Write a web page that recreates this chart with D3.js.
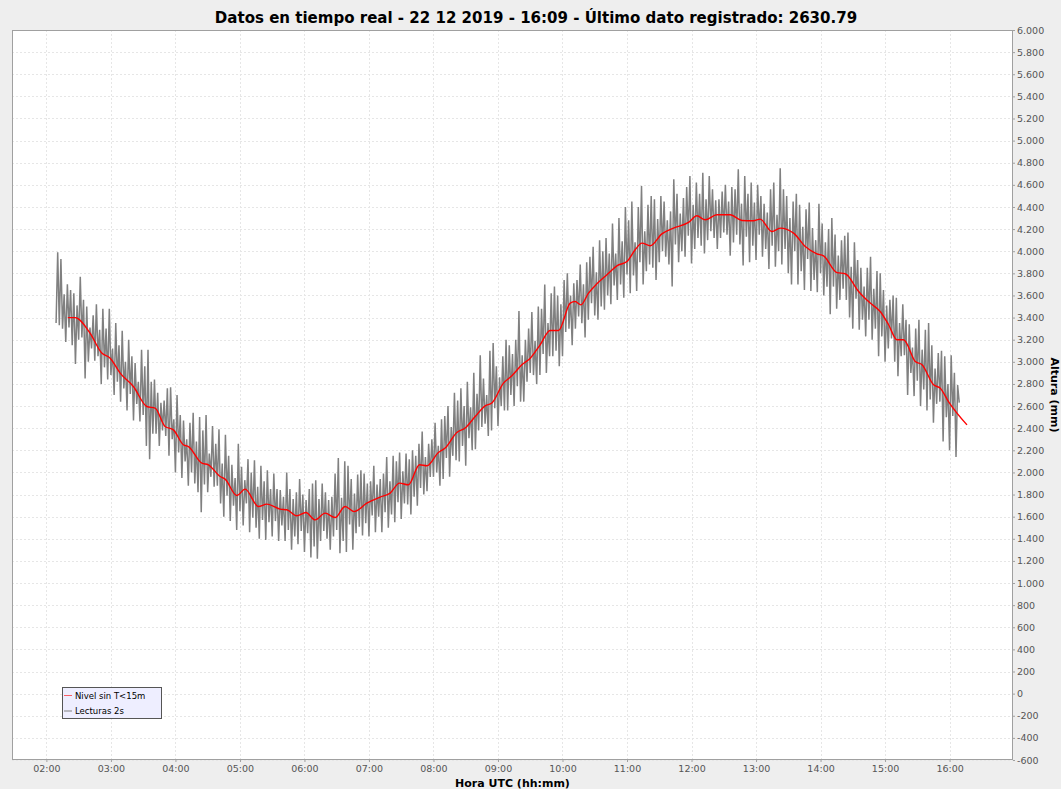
<!DOCTYPE html>
<html>
<head>
<meta charset="utf-8">
<script src="https://cdn.jsdelivr.net/npm/d3@7"></script>
<style>
  html, body { margin: 0; padding: 0; background: #eeeeee; }
  svg { display: block; }
</style>
</head>
<body>
<svg id="chart" width="1061" height="789"></svg>
<script>
// ---- Texts ----
const chartTitle = "Datos en tiempo real - 22 12 2019 - 16:09 - Último dato registrado: 2630.79";
const xAxisTitle = "Hora UTC (hh:mm)";
const yAxisTitle = "Altura (mm)";
const seriesNames = ["Nivel sin T<15m", "Lecturas 2s"];

// ---- Axis ticks ----
const hourTicks = [120, 180, 240, 300, 360, 420, 480, 540, 600, 660, 720, 780, 840, 900, 960]; // minutes UTC
const hourTickLabels = ["02:00", "03:00", "04:00", "05:00", "06:00", "07:00", "08:00", "09:00",
                        "10:00", "11:00", "12:00", "13:00", "14:00", "15:00", "16:00"];
const heightTicks = [-600, -400, -200, 0, 200, 400, 600, 800, 1000, 1200, 1400, 1600, 1800, 2000,
                     2200, 2400, 2600, 2800, 3000, 3200, 3400, 3600, 3800, 4000, 4200, 4400, 4600,
                     4800, 5000, 5200, 5400, 5600, 5800, 6000];
const timeDomain = [88, 1019];     // minutes UTC
const heightDomain = [-600, 6000]; // mm

// ---- Filtered level (Nivel sin T<15m): time in minutes UTC, height in mm ----
const levelTimes = [139.9, 146.7, 160.6, 171.5, 179.3, 188.6, 200.9, 213.4, 221.1, 230.4,
  238.1, 247.4, 252.1, 264.6, 270.7, 281.6, 286.2, 297.1, 304.8, 317.2,
  325.0, 337.4, 343.6, 352.9, 361.3, 370.0, 379.2, 388.5, 397.8, 406.2,
  418.0, 430.4, 439.7, 448.4, 456.7, 467.0, 473.9, 484.6, 490.9, 501.7,
  509.5, 518.8, 528.1, 534.3, 545.1, 552.9, 562.2, 570.0, 579.2, 588.5,
  596.3, 607.2, 611.8, 617.1, 624.2, 632.0, 641.3, 650.6, 659.9, 667.6,
  673.8, 681.6, 692.4, 703.2, 717.2, 725.0, 732.7, 743.6, 756.0, 766.9,
  777.6, 783.9, 794.8, 802.5, 814.9, 825.8, 836.6, 842.8, 855.3, 863.0,
  875.4, 886.2, 895.5, 903.3, 911.1, 917.2, 928.1, 934.4, 945.1, 951.4,
  959.0, 976.2];
const levelValues = [3400, 3400, 3259, 3079, 3033, 2898, 2777, 2596, 2581, 2415,
  2385, 2250, 2234, 2084, 2069, 1963, 1939, 1791, 1849, 1692,
  1713, 1668, 1662, 1608, 1637, 1571, 1632, 1592, 1692, 1646,
  1722, 1777, 1813, 1903, 1888, 2069, 2060, 2180, 2220, 2361,
  2401, 2505, 2602, 2627, 2807, 2873, 2973, 3033, 3154, 3283,
  3283, 3531, 3545, 3515, 3621, 3705, 3787, 3868, 3907, 4013,
  4073, 4049, 4157, 4209, 4260, 4320, 4284, 4329, 4329, 4278,
  4275, 4290, 4178, 4209, 4164, 4042, 3976, 3958, 3807, 3796,
  3636, 3531, 3455, 3335, 3199, 3199, 3003, 2973, 2792, 2762,
  2641, 2430];

// ---- Raw readings (Lecturas 2s), decimated: first at 02:09, one every 1.5 min ----
const readingsStart = 129;  // minutes UTC
const readingsStep = 1.5;   // minutes
const readings = [
  3350, 3990, 3330, 3930, 3300, 3610, 3180, 3700, 3310, 3650,
  3150, 3620, 2980, 3510, 3200, 3770, 3220, 3560, 2850, 3500,
  3000, 3310, 3120, 3420, 3010, 3520, 3050, 3290, 2800, 3480,
  2950, 3300, 2840, 3480, 2880, 3120, 2700, 3350, 2820, 3150,
  2640, 3280, 2760, 3000, 2560, 3200, 2710, 3050, 2470, 2990,
  2620, 2820, 2460, 3110, 2520, 2960, 2240, 3110, 2120, 2820,
  2350, 2840, 2350, 2720, 2240, 2630, 2380, 2650, 2330, 2760,
  2150, 2770, 2300, 2480, 2000, 2700, 2180, 2520, 1950, 2470,
  2100, 2300, 1880, 2450, 2000, 2540, 1900, 2280, 1820, 2500,
  1640, 2380, 1890, 2520, 1820, 2170, 1960, 2420, 1870, 2260,
  1880, 2390, 1720, 2080, 1600, 2340, 1790, 2150, 1560, 2070,
  1700, 1950, 1480, 2260, 1650, 2050, 1520, 1930, 1720, 2120,
  1460, 2000, 1590, 2110, 1500, 1870, 1400, 2060, 1570, 1920,
  1390, 2020, 1550, 1850, 1420, 1990, 1560, 1850, 1380, 1840,
  1520, 1780, 1380, 2000, 1480, 1850, 1300, 1760, 1420, 1820,
  1350, 1940, 1470, 1800, 1280, 1750, 1450, 1850, 1230, 1900,
  1330, 1930, 1220, 1760, 1380, 1900, 1470, 1820, 1400, 1750,
  1300, 1780, 1420, 1990, 1480, 2130, 1270, 1770, 1380, 2100,
  1280, 2060, 1530, 1940, 1300, 1810, 1450, 1980, 1510, 2020,
  1430, 1990, 1540, 1900, 1420, 1920, 1610, 2060, 1460, 1890,
  1600, 1940, 1460, 1990, 1640, 2140, 1500, 1920, 1620, 2150,
  1550, 2100, 1730, 2180, 1580, 2010, 1720, 2170, 1710, 2120,
  1620, 2200, 1780, 2150, 1700, 2260, 1860, 2370, 1800, 2140,
  1830, 2260, 1960, 2300, 1960, 2450, 2000, 2240, 1880, 2480,
  1940, 2510, 2130, 2600, 1960, 2410, 2150, 2720, 2110, 2650,
  2100, 2760, 2240, 2600, 2060, 2820, 2310, 2590, 2200, 2900,
  2210, 2710, 2380, 3060, 2410, 2850, 2440, 2700, 2330, 3100,
  2380, 3170, 2580, 2960, 2420, 2860, 2600, 3050, 2560, 3200,
  2560, 3150, 2700, 3070, 2600, 3200, 2780, 3460, 2640, 3060,
  2640, 3200, 2820, 3300, 2900, 3450, 2880, 3190, 2800, 3500,
  2880, 3480, 3070, 3700, 2900, 3350, 3050, 3620, 3050, 3680,
  3100, 3600, 2960, 3520, 3050, 3740, 3270, 3800, 3300, 3600,
  3150, 3710, 3300, 3740, 3410, 3880, 3350, 3700, 3220, 3900,
  3380, 3950, 3530, 4040, 3420, 3810, 3380, 4100, 3500, 4000,
  3470, 4120, 3600, 3980, 3520, 4250, 3690, 3980, 3560, 4300,
  3700, 4090, 3580, 4400, 3790, 4280, 3620, 4450, 3780, 4080,
  3640, 4400, 3900, 4590, 3700, 4180, 3820, 4420, 3880, 4500,
  3850, 4470, 3740, 4290, 3900, 4500, 4000, 4450, 3950, 4280,
  3880, 4360, 3680, 4650, 4060, 4520, 3900, 4340, 4000, 4480,
  3950, 4580, 4140, 4680, 3890, 4420, 4020, 4620, 4120, 4520,
  4050, 4710, 3980, 4470, 4100, 4680, 4180, 4560, 4120, 4460,
  4020, 4470, 4120, 4540, 4170, 4600, 4150, 4450, 3960, 4580,
  4080, 4560, 4150, 4740, 4060, 4430, 3870, 4680, 4130, 4520,
  3900, 4620, 4050, 4440, 3920, 4600, 4150, 4500, 3950, 4430,
  4020, 4350, 3840, 4560, 4050, 4620, 3860, 4330, 4000, 4750,
  3880, 4560, 4020, 4500, 3800, 4300, 3700, 4450, 4000, 4520,
  3700, 4420, 3820, 4220, 3650, 4380, 3930, 4440, 3640, 4210,
  3740, 4100, 3630, 4430, 3800, 4250, 3600, 4080, 3680, 4200,
  3430, 4300, 3680, 4150, 3480, 3960, 3560, 4100, 3660, 4140,
  3560, 4170, 3400, 3860, 3300, 4080, 3570, 3920, 3290, 3850,
  3380, 3680, 3230, 3850, 3380, 3950, 3200, 3660, 3300, 3820,
  3050, 3800, 3230, 3650, 3000, 3510, 3120, 3560, 3210, 3600,
  3000, 3580, 2870, 3350, 3050, 3520, 3060, 3380, 2700, 3340,
  2900, 3130, 2690, 3300, 2830, 3380, 2600, 3110, 2750, 3290,
  2560, 3350, 2660, 3150, 2450, 2940, 2620, 3080, 2640, 3100,
  2280, 3050, 2500, 2800, 2200, 3060, 2510, 2900, 2140, 2790,
  2630.79
];

// ---- Layout ----
const W = 1061, H = 789;
const plot = { left: 12, top: 30, right: 1013, bottom: 760 };

const svg = d3.select("#chart");

const x = d3.scaleLinear().domain(timeDomain).range([plot.left, plot.right]);
const y = d3.scaleLinear().domain(heightDomain).range([plot.bottom, plot.top]);

const esLocale = d3.formatLocale({ decimal: ",", thousands: ".", grouping: [3], currency: ["", ""], minus: "-" });
const fmtHeight = esLocale.format(",");

// page background
svg.append("rect").attr("width", W).attr("height", H).attr("fill", "#eeeeee");

// plot background
svg.append("rect")
  .attr("x", plot.left).attr("y", plot.top)
  .attr("width", plot.right - plot.left).attr("height", plot.bottom - plot.top)
  .attr("fill", "#ffffff");

// grid
const grid = svg.append("g").attr("class", "grid");
grid.selectAll("line.v").data(hourTicks).join("line")
  .attr("class", "v")
  .attr("x1", d => Math.round(x(d)) + 0.5).attr("x2", d => Math.round(x(d)) + 0.5)
  .attr("y1", plot.top).attr("y2", plot.bottom)
  .attr("stroke", "#e6e6e6").attr("stroke-width", 1).attr("stroke-dasharray", "2,2");
grid.selectAll("line.h").data(heightTicks).join("line")
  .attr("class", "h")
  .attr("x1", plot.left).attr("x2", plot.right)
  .attr("y1", d => Math.round(y(d)) + 0.5).attr("y2", d => Math.round(y(d)) + 0.5)
  .attr("stroke", "#e6e6e6").attr("stroke-width", 1).attr("stroke-dasharray", "2,2");

// clip for the series
svg.append("clipPath").attr("id", "plotClip")
  .append("rect")
  .attr("x", plot.left).attr("y", plot.top)
  .attr("width", plot.right - plot.left).attr("height", plot.bottom - plot.top);

const series = svg.append("g").attr("clip-path", "url(#plotClip)");

// raw readings
const readingPoints = readings.map((v, i) => [readingsStart + i * readingsStep, v]);
series.append("path")
  .datum(readingPoints)
  .attr("fill", "none")
  .attr("stroke", "#808080")
  .attr("stroke-width", 1.5)
  .attr("stroke-linejoin", "bevel")
  .attr("d", d3.line().x(d => x(d[0])).y(d => y(d[1])));

// filtered level
const levelPoints = levelTimes.map((t, i) => [t, levelValues[i]]);
series.append("path")
  .datum(levelPoints)
  .attr("fill", "none")
  .attr("stroke", "#ff0000")
  .attr("stroke-width", 1.4)
  .attr("d", d3.line().curve(d3.curveMonotoneX).x(d => x(d[0])).y(d => y(d[1])));

// plot border
svg.append("rect")
  .attr("x", plot.left + 0.5).attr("y", plot.top + 0.5)
  .attr("width", plot.right - plot.left - 1).attr("height", plot.bottom - plot.top - 1)
  .attr("fill", "none").attr("stroke", "#a0a0a0");

// bottom axis
const xAxis = d3.axisBottom(x)
  .tickValues(hourTicks)
  .tickFormat((d, i) => hourTickLabels[i])
  .tickSize(2).tickPadding(3);
const gx = svg.append("g").attr("transform", `translate(0,${plot.bottom})`).call(xAxis);
gx.select(".domain").remove();
gx.selectAll(".tick line").attr("stroke", "#a0a0a0");
gx.selectAll(".tick text")
  .attr("fill", "#555555")
  .style("font-family", "'DejaVu Sans', Verdana, sans-serif")
  .style("font-size", "9.5px");

// right axis
const yAxis = d3.axisRight(y)
  .tickValues(heightTicks)
  .tickFormat(fmtHeight)
  .tickSize(2).tickPadding(2);
const gy = svg.append("g").attr("transform", `translate(${plot.right},0)`).call(yAxis);
gy.select(".domain").remove();
gy.selectAll(".tick line").attr("stroke", "#a0a0a0");
gy.selectAll(".tick text")
  .attr("fill", "#555555")
  .style("font-family", "'DejaVu Sans', Verdana, sans-serif")
  .style("font-size", "9.5px");

// title
const title = svg.append("text")
  .attr("x", 536).attr("y", 23)
  .attr("text-anchor", "middle")
  .attr("fill", "#000")
  .style("font-family", "'DejaVu Sans Condensed', 'DejaVu Sans', sans-serif")
  .style("font-weight", "bold")
  .style("font-size", "16px")
  .text(chartTitle);
const titleW = title.node().getComputedTextLength();
title.style("font-size", (16 * 643 / titleW).toFixed(2) + "px");

// axis titles
svg.append("text")
  .attr("x", (plot.left + plot.right) / 2).attr("y", 787)
  .attr("text-anchor", "middle")
  .style("font-family", "'DejaVu Sans', Verdana, sans-serif")
  .style("font-weight", "bold")
  .style("font-size", "11px")
  .text(xAxisTitle);

svg.append("text")
  .attr("transform", `translate(1051,${(plot.top + plot.bottom) / 2}) rotate(90)`)
  .attr("text-anchor", "middle")
  .style("font-family", "'DejaVu Sans', Verdana, sans-serif")
  .style("font-weight", "bold")
  .style("font-size", "11px")
  .text(yAxisTitle);

// legend
const legend = svg.append("g").attr("transform", "translate(62,687)");
legend.append("rect")
  .attr("x", 0.5).attr("y", 0.5).attr("width", 99).attr("height", 31)
  .attr("fill", "#eeeeff").attr("stroke", "#555555");
const legendColors = ["#ff0000", "#808080"];
seriesNames.forEach((name, i) => {
  const ly = 8.5 + i * 15.5;
  legend.append("line")
    .attr("x1", 2).attr("x2", 10).attr("y1", ly).attr("y2", ly)
    .attr("stroke", legendColors[i]).attr("stroke-width", 1).attr("opacity", i === 0 ? 0.6 : 1);
  legend.append("text")
    .attr("x", 13).attr("y", ly + 3.2)
    .style("font-family", "'DejaVu Sans', Verdana, sans-serif")
    .style("font-size", "8.5px")
    .attr("fill", "#000")
    .text(name);
});
</script>
</body>
</html>
